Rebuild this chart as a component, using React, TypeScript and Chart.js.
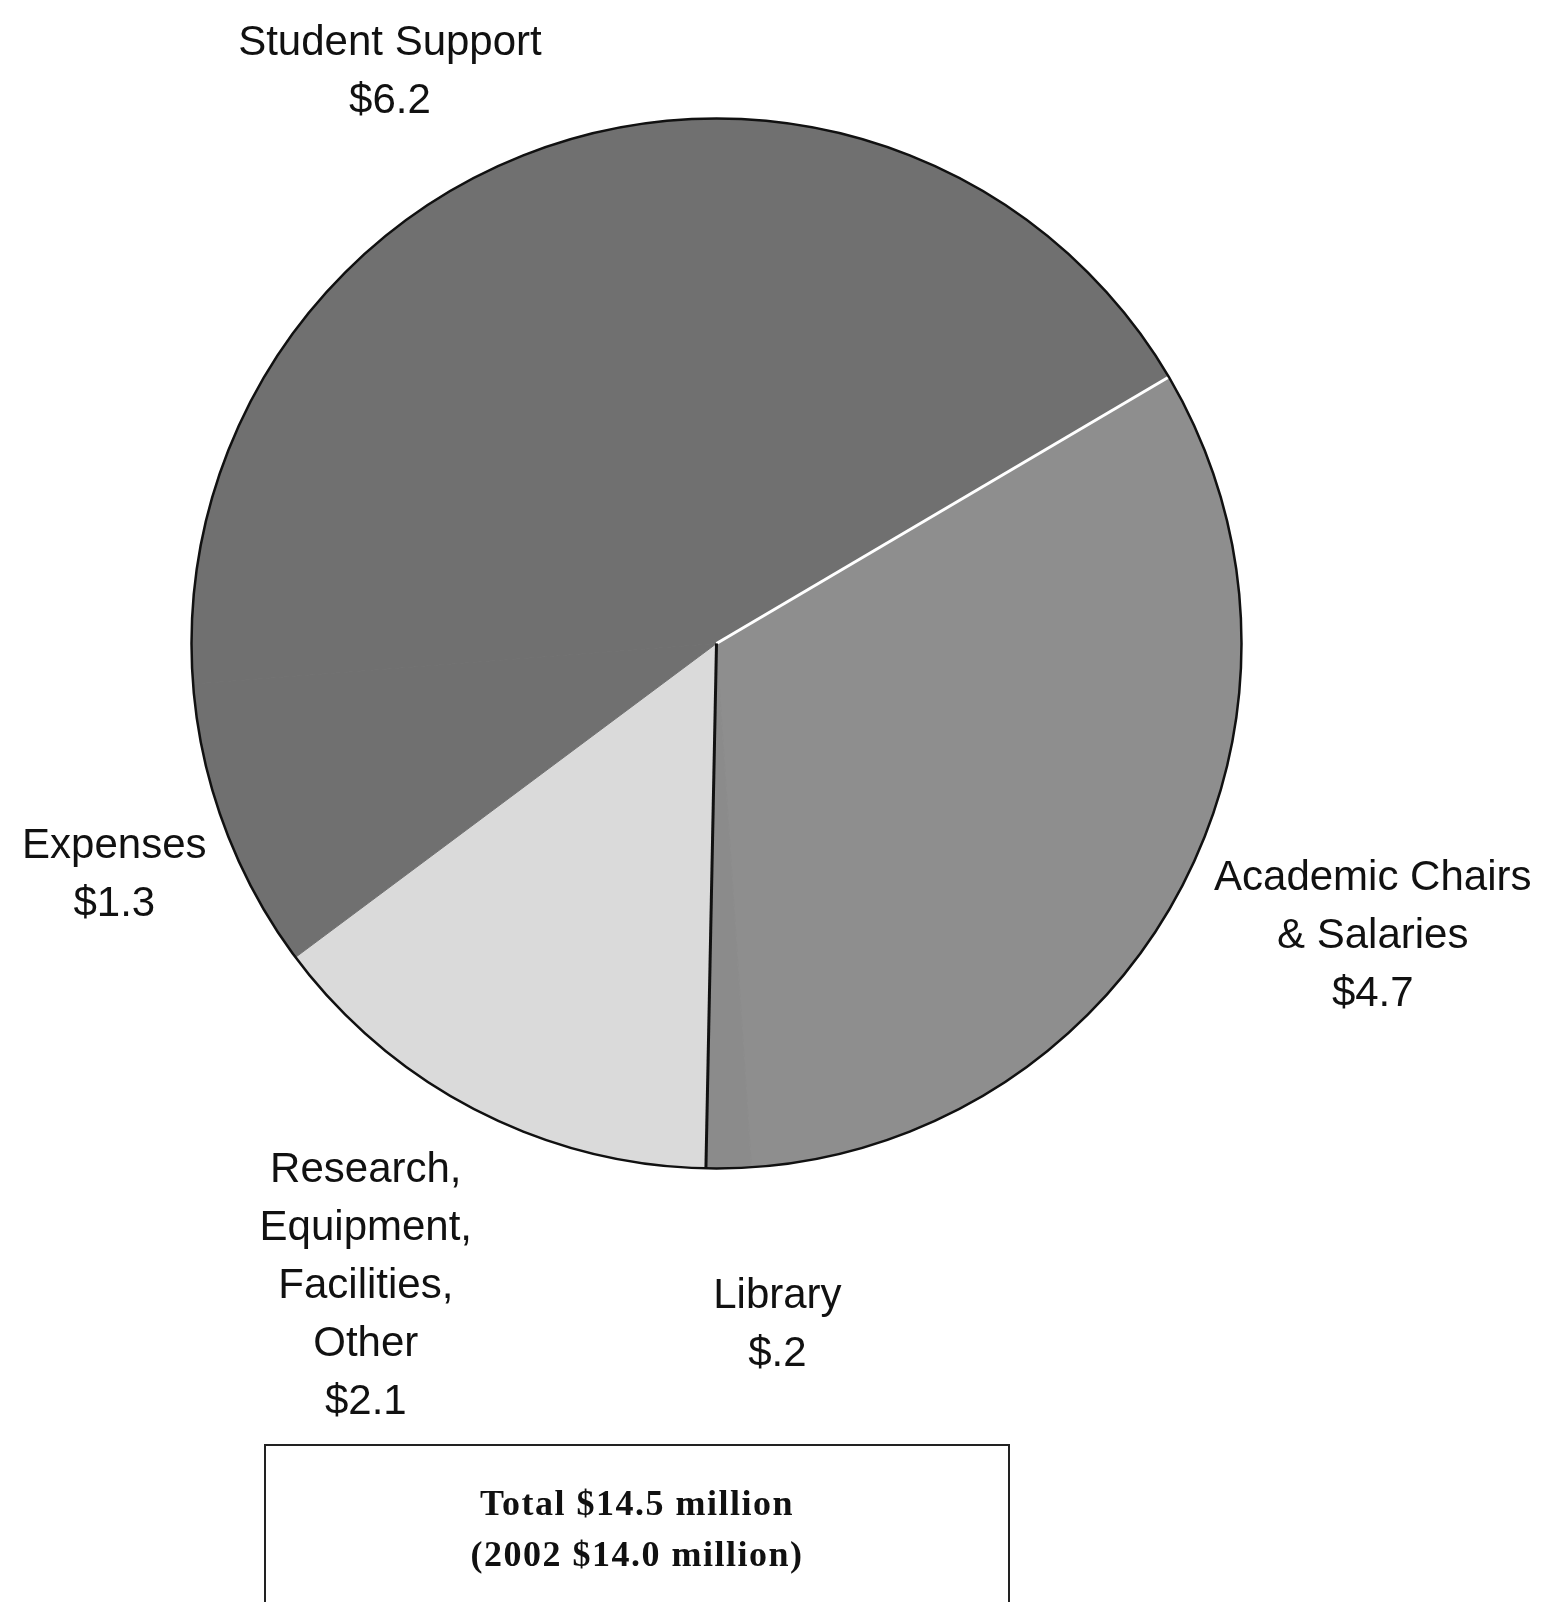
import React, { useEffect, useRef } from "react";
import { Chart, registerables } from "chart.js";

Chart.register(...registerables);

const categories = [
  ["Academic Chairs", "& Salaries"],
  ["Library"],
  ["Research,", "Equipment,", "Facilities,", "Other"],
  ["Expenses"],
  ["Student Support"],
];
const values = [4.7, 0.2, 2.1, 1.3, 6.2];
const valueLabels = ["$4.7", "$.2", "$2.1", "$1.3", "$6.2"];
const totalLines = ["Total $14.5 million", "(2002 $14.0 million)"];

// label anchor offsets in units of the pie radius (layout, not data)
const labelOffsets = [
  [1.25, 0.557],
  [0.116, 1.298],
  [-0.668, 1.224],
  [-1.147, 0.441],
  [-0.622, -1.088],
];
const fills = ["#8e8e8e", "#8b8b8b", "#dadada", "#707070", "#707070"];

const pieDecor = {
  id: "pieDecor",
  afterDatasetsDraw(chart: any) {
    const meta = chart.getDatasetMeta(0);
    const arcs = meta.data;
    if (!arcs.length) return;
    const { x, y, outerRadius } = arcs[0].getProps(["x", "y", "outerRadius"], true);
    const ctx = chart.ctx;
    ctx.save();
    // white separator at the start of Academic Chairs
    const a0 = arcs[0].startAngle;
    ctx.strokeStyle = "#ffffff";
    ctx.lineWidth = 3;
    ctx.beginPath();
    ctx.moveTo(x, y);
    ctx.lineTo(x + Math.cos(a0) * outerRadius, y + Math.sin(a0) * outerRadius);
    ctx.stroke();
    // dark separator at start of Research
    const a2 = arcs[2].startAngle;
    ctx.strokeStyle = "#111111";
    ctx.lineWidth = 3;
    ctx.beginPath();
    ctx.moveTo(x, y);
    ctx.lineTo(x + Math.cos(a2) * outerRadius, y + Math.sin(a2) * outerRadius);
    ctx.stroke();
    // outline
    ctx.lineWidth = 2.5;
    ctx.strokeStyle = "#111111";
    ctx.beginPath();
    ctx.arc(x, y, outerRadius, 0, Math.PI * 2);
    ctx.stroke();

    // labels
    ctx.fillStyle = "#111111";
    ctx.font = "42px 'Liberation Sans', Arial, sans-serif";
    ctx.textAlign = "center";
    ctx.textBaseline = "middle";
    const lh = 58;
    categories.forEach((lines, i) => {
      const all = [...lines, valueLabels[i]];
      const cx = x + labelOffsets[i][0] * outerRadius;
      const cy = y + labelOffsets[i][1] * outerRadius;
      const startY = cy - ((all.length - 1) * lh) / 2;
      all.forEach((t, k) => ctx.fillText(t, cx, startY + k * lh));
    });
    ctx.restore();
  },
};

export default function App() {
  const ref = useRef<HTMLCanvasElement | null>(null);
  useEffect(() => {
    if (!ref.current) return;
    const chart = new Chart(ref.current, {
      type: "pie",
      data: {
        labels: categories.map((c) => c.join(" ")),
        datasets: [
          {
            data: values,
            backgroundColor: fills,
            borderColor: fills,
            borderWidth: 1,
          },
        ],
      },
      options: {
        responsive: false,
        animation: false,
        rotation: 59.5,
        layout: { padding: { left: 191, top: 118, right: 299, bottom: 433 } },
        plugins: {
          legend: { display: false },
          tooltip: { enabled: false },
        },
      },
      plugins: [pieDecor],
    });
    return () => chart.destroy();
  }, []);

  return (
    <div style={{ position: "absolute", left: 0, top: 0, width: 1541, height: 1602, background: "#fff", overflow: "hidden" }}>
      <canvas ref={ref} width={1541} height={1602} style={{ display: "block", position: "absolute", left: 0, top: 0 }} />
      <div
        style={{
          position: "absolute",
          left: 264,
          top: 1444,
          width: 746,
          height: 160,
          boxSizing: "border-box",
          border: "2px solid #222",
          paddingTop: 32,
          textAlign: "center",
          fontFamily: "'Liberation Serif', 'Times New Roman', serif",
          fontWeight: "bold",
          fontSize: 36,
          letterSpacing: "1.5px",
          lineHeight: "51px",
          color: "#111",
        }}
      >
        {totalLines.map((t) => (
          <div key={t}>{t}</div>
        ))}
      </div>
    </div>
  );
}
